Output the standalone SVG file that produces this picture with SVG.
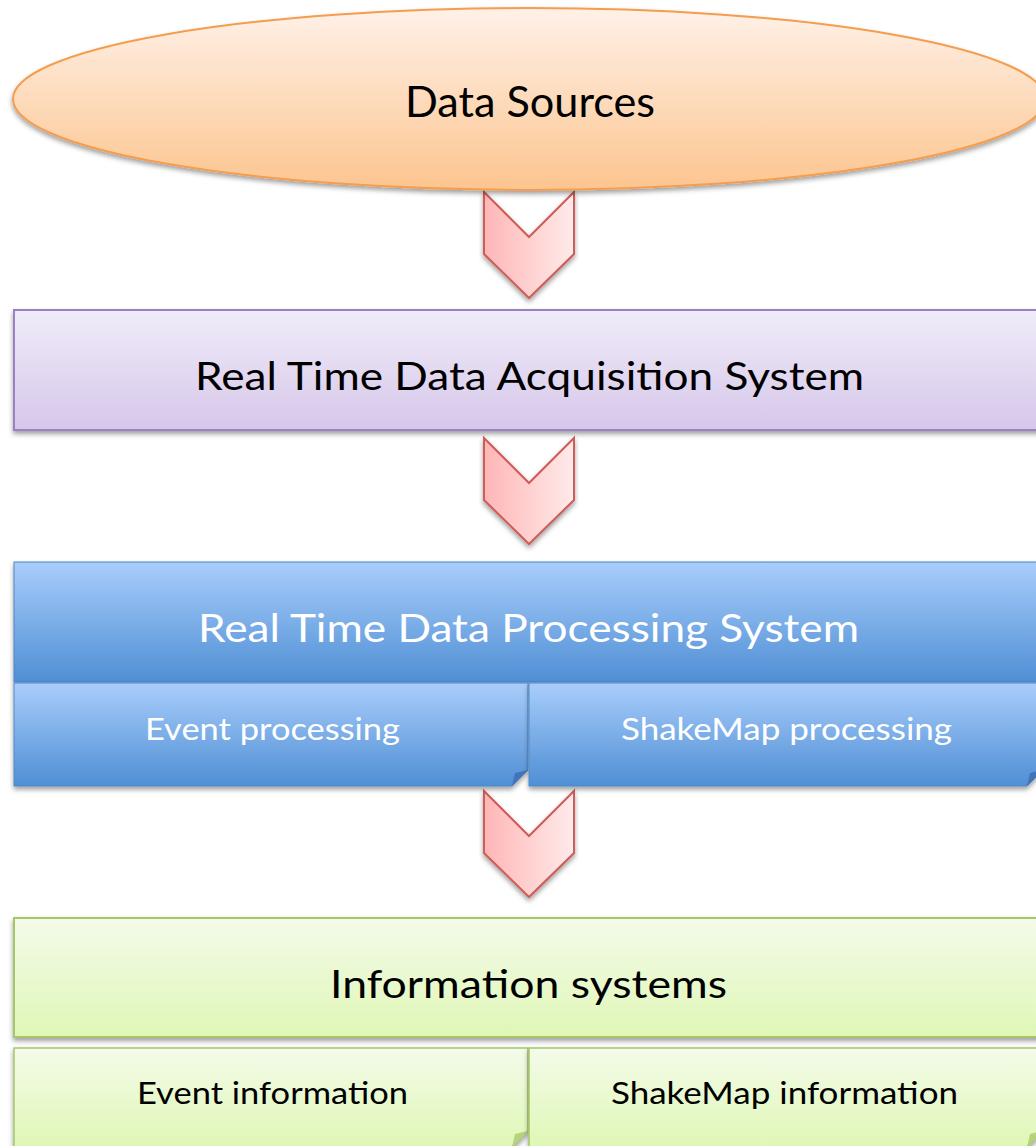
<svg xmlns="http://www.w3.org/2000/svg" xmlns:xlink="http://www.w3.org/1999/xlink" width="1036" height="1146" viewBox="0 0 1036 1146">
<style>
  .t { font-family: Lato, "Liberation Sans", sans-serif; text-anchor: middle; }
  .big { font-size: 43px; }
  .main { font-size: 39px; }
  .sub { font-size: 31px; }
  .dark { fill: #000; }
  .light { fill: #fff; }
  .arrow { fill: url(#gArrow); stroke: #cd5d58; stroke-width: 2; stroke-linejoin: miter; }
</style>
<defs>
  <filter id="sh" x="-5%" y="-10%" width="110%" height="130%">
    <feDropShadow dx="0" dy="3" stdDeviation="2.5" flood-color="#000" flood-opacity="0.38"/>
  </filter>
  <linearGradient id="gEll" x1="0" y1="0" x2="0" y2="1">
    <stop offset="0" stop-color="#fff1e8"/>
    <stop offset="1" stop-color="#fcc58f"/>
  </linearGradient>
  <linearGradient id="gArrow" x1="0" y1="0" x2="1" y2="0">
    <stop offset="0" stop-color="#ffb6b6"/>
    <stop offset="1" stop-color="#ffeaea"/>
  </linearGradient>
  <linearGradient id="gPur" x1="0" y1="0" x2="0" y2="1">
    <stop offset="0" stop-color="#f0ecf9"/>
    <stop offset="1" stop-color="#d6c7ea"/>
  </linearGradient>
  <linearGradient id="gBlue" x1="0" y1="0" x2="0" y2="1">
    <stop offset="0" stop-color="#a9cdfb"/>
    <stop offset="1" stop-color="#4f8fd5"/>
  </linearGradient>
  <linearGradient id="gGreen" x1="0" y1="0" x2="0" y2="1">
    <stop offset="0" stop-color="#f4fbea"/>
    <stop offset="1" stop-color="#dff7b6"/>
  </linearGradient>
  <path id="chev" d="M0,0 L45,45 L90,0 L90,62 L45,106 L0,62 Z"/>
</defs>

<rect width="1036" height="1146" fill="#fff"/>

<g id="connectors">
  <use xlink:href="#chev" href="#chev" class="arrow" filter="url(#sh)" transform="translate(484,192)"/>
  <use xlink:href="#chev" href="#chev" class="arrow" filter="url(#sh)" transform="translate(484,438)"/>
  <use xlink:href="#chev" href="#chev" class="arrow" filter="url(#sh)" transform="translate(484,791)"/>
</g>

<g id="data-sources">
  <ellipse cx="529" cy="99" rx="516" ry="91" fill="url(#gEll)" stroke="#f59d4f" stroke-width="2" filter="url(#sh)"/>
  <text class="t big dark" x="530" y="117" textLength="250" lengthAdjust="spacingAndGlyphs">Data Sources</text>
</g>

<g id="acquisition">
  <rect x="14" y="310" width="1029" height="120" fill="url(#gPur)" stroke="#9a80c4" stroke-width="2" filter="url(#sh)"/>
  <text class="t main dark" x="529.5" y="390" textLength="669" lengthAdjust="spacingAndGlyphs">Real Time Data Acquisition System</text>
</g>

<g id="processing">
  <rect x="14" y="562" width="1029" height="120" fill="url(#gBlue)" stroke="#4f84c4" stroke-width="1" filter="url(#sh)"/>
  <text class="t main light" x="528.5" y="642" textLength="661" lengthAdjust="spacingAndGlyphs">Real Time Data Processing System</text>
</g>

<g id="event-processing">
  <path d="M14,683 H528 V770 L512,786 H14 Z" fill="url(#gBlue)" stroke="#5088c8" stroke-width="1" filter="url(#sh)"/>
  <path d="M528,770 L512,786 L515,773 Z" fill="#3f76ba"/>
  <text class="t sub light" x="272.5" y="740" textLength="255" lengthAdjust="spacingAndGlyphs">Event processing</text>
</g>

<g id="shakemap-processing">
  <path d="M529,683 H1043 V770 L1027,786 H529 Z" fill="url(#gBlue)" stroke="#5088c8" stroke-width="1" filter="url(#sh)"/>
  <path d="M1043,770 L1027,786 L1030,773 Z" fill="#3f76ba"/>
  <text class="t sub light" x="786.5" y="740" textLength="331" lengthAdjust="spacingAndGlyphs">ShakeMap processing</text>
</g>

<g id="information-systems">
  <rect x="14" y="918" width="1029" height="119" fill="url(#gGreen)" stroke="#a6c66a" stroke-width="2" filter="url(#sh)"/>
  <text class="t main dark" x="528.5" y="998" textLength="397" lengthAdjust="spacingAndGlyphs">Information systems</text>
</g>

<g id="event-information">
  <path d="M14,1048 H528 V1131 L512,1147 H14 Z" fill="url(#gGreen)" stroke="#a6c66a" stroke-width="1.5" filter="url(#sh)"/>
  <path d="M528,1131 L512,1147 L515,1134 Z" fill="#b6d37c"/>
  <text class="t sub dark" x="272.5" y="1104" textLength="271" lengthAdjust="spacingAndGlyphs">Event information</text>
</g>

<g id="shakemap-information">
  <path d="M529,1048 H1043 V1131 L1027,1147 H529 Z" fill="url(#gGreen)" stroke="#a6c66a" stroke-width="1.5" filter="url(#sh)"/>
  <path d="M1043,1131 L1027,1147 L1030,1134 Z" fill="#b6d37c"/>
  <text class="t sub dark" x="784.5" y="1104" textLength="347" lengthAdjust="spacingAndGlyphs">ShakeMap information</text>
</g>
</svg>
